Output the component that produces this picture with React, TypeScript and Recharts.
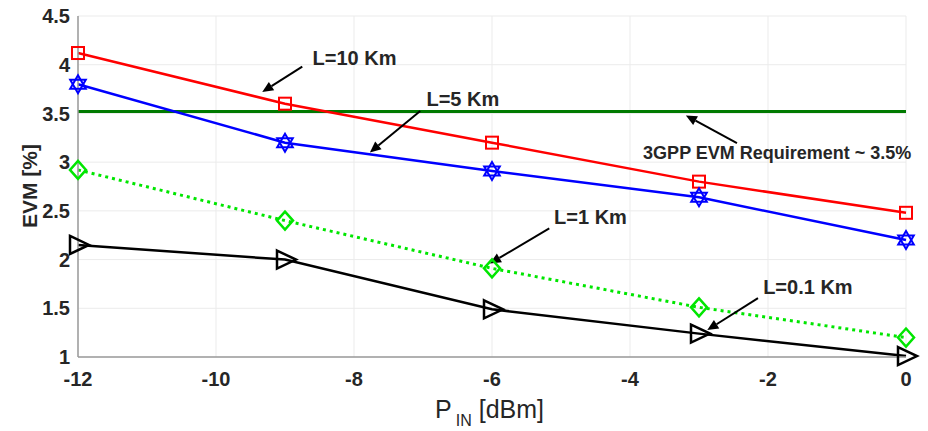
import React from 'react';
import {
  LineChart,
  Line,
  XAxis,
  YAxis,
  CartesianGrid,
  ReferenceLine,
  ReferenceDot,
  Customized,
} from 'recharts';

const pin = [-12, -9, -6, -3, 0];
const evm10km = [4.12, 3.6, 3.2, 2.8, 2.48];
const evm5km = [3.8, 3.2, 2.91, 2.64, 2.2];
const evm1km = [2.92, 2.4, 1.91, 1.51, 1.2];
const evm01km = [2.15, 2.0, 1.49, 1.24, 1.01];
const xTicks = [-12, -10, -8, -6, -4, -2, 0];
const yTicks = [1, 1.5, 2, 2.5, 3, 3.5, 4, 4.5];
const requirement = 3.52;

// arrows: tail/head in data units, text anchored at "at" (left edge, vertical centre)
const annotations = [
  { text: 'L=10 Km', tail: [-8.75, 3.98], head: [-9.33, 3.72], at: [-8.6, 4.07], size: 20 },
  { text: 'L=5 Km', tail: [-7.04, 3.525], head: [-7.77, 3.1], at: [-6.95, 3.65], size: 20 },
  { text: '3GPP EVM Requirement ~ 3.5%', tail: [-2.45, 3.196], head: [-3.19, 3.48], at: [-3.81, 3.093], size: 18 },
  { text: 'L=1 Km', tail: [-5.17, 2.32], head: [-6.03, 1.96], at: [-5.1, 2.436], size: 20 },
  { text: 'L=0.1 Km', tail: [-2.145, 1.605], head: [-2.88, 1.276], at: [-2.07, 1.718], size: 20 },
];

const data = pin.map((p, i) => ({
  pin: p,
  km10: evm10km[i],
  km5: evm5km[i],
  km1: evm1km[i],
  km01: evm01km[i],
}));

const FONT = '"Liberation Sans", Arial, sans-serif';

const SquareDot = ({ cx, cy }: any) => (
  <rect x={cx - 6} y={cy - 6} width={12} height={12} fill="none" stroke="#ff0000" strokeWidth={2} />
);

const HexDot = ({ cx, cy }: any) => {
  const r = 9;
  const up = `${cx},${cy - r} ${cx + r * 0.866},${cy + r / 2} ${cx - r * 0.866},${cy + r / 2}`;
  const down = `${cx},${cy + r} ${cx + r * 0.866},${cy - r / 2} ${cx - r * 0.866},${cy - r / 2}`;
  return (
    <g fill="none" stroke="#0000ff" strokeWidth={2}>
      <polygon points={up} />
      <polygon points={down} />
    </g>
  );
};

const DiamondDot = ({ cx, cy }: any) => (
  <polygon
    points={`${cx},${cy - 9} ${cx + 8},${cy} ${cx},${cy + 9} ${cx - 8},${cy}`}
    fill="none"
    stroke="#00e600"
    strokeWidth={2.5}
  />
);

const TriDot = ({ cx, cy }: any) => (
  <polygon
    points={`${cx - 8},${cy - 9} ${cx + 11},${cy} ${cx - 8},${cy + 9}`}
    fill="none"
    stroke="#000"
    strokeWidth={2.5}
  />
);

const Arrow = (props: any) => {
  const { x1, y1, x2, y2 } = props;
  const ang = Math.atan2(y2 - y1, x2 - x1);
  const len = 11;
  const w = 5;
  const bx = x2 - len * Math.cos(ang);
  const by = y2 - len * Math.sin(ang);
  const p1 = `${bx + w * Math.sin(ang)},${by - w * Math.cos(ang)}`;
  const p2 = `${bx - w * Math.sin(ang)},${by + w * Math.cos(ang)}`;
  return (
    <g>
      <line x1={x1} y1={y1} x2={bx} y2={by} stroke="#000" strokeWidth={2} />
      <polygon points={`${x2},${y2} ${p1} ${p2}`} fill="#000" />
    </g>
  );
};

const Labels = () => (
  <g fontFamily={FONT} fill="#262626">
    <text
      x={29}
      y={186}
      transform="rotate(-90 29 186)"
      textAnchor="middle"
      dominantBaseline="central"
      fontSize={21}
      fontWeight="bold"
    >
      EVM [%]
    </text>
    <text x={435} y={418} fontSize={25}>
      <tspan>P</tspan>
      <tspan dy={8} dx={4} fontSize={16}>IN</tspan>
      <tspan dy={-8} dx={7}>[dBm]</tspan>
    </text>
  </g>
);

export default function App() {
  return (
    <div style={{ width: 928, height: 431, background: '#fff' }}>
      <style>{`body{margin:0}`}</style>
      <LineChart
        width={928}
        height={431}
        data={data}
        margin={{ top: 16, right: 22, bottom: 0, left: 0 }}
        style={{ fontFamily: FONT }}
      >
        <CartesianGrid stroke="#ebebeb" strokeWidth={1} />
        <XAxis
          dataKey="pin"
          type="number"
          domain={[-12, 0]}
          ticks={xTicks}
          height={74}
          tickLine={false}
          tickSize={0}
          tickMargin={15}
          axisLine={{ stroke: '#9a9a9a', strokeWidth: 1.5 }}
          tick={{ fill: '#262626', fontSize: 20, fontWeight: 'bold' }}
        />
        <XAxis xAxisId="top" orientation="top" dataKey="pin" type="number" domain={[-12, 0]} height={0} tick={false} tickLine={false} axisLine={{ stroke: '#bdbdbd' }} />
        <YAxis
          type="number"
          domain={[1, 4.5]}
          ticks={yTicks}
          width={78}
          tickLine={false}
          tickSize={0}
          tickMargin={8}
          axisLine={{ stroke: '#9a9a9a', strokeWidth: 1.5 }}
          tick={{ fill: '#262626', fontSize: 20, fontWeight: 'bold' }}
        />
        <YAxis yAxisId="right" orientation="right" type="number" domain={[1, 4.5]} width={0} tick={false} tickLine={false} axisLine={{ stroke: '#bdbdbd' }} />
        <ReferenceLine y={requirement} stroke="#007a00" strokeWidth={3} />
        <Line dataKey="km10" stroke="#ff0000" strokeWidth={2.5} dot={<SquareDot />} isAnimationActive={false} />
        <Line dataKey="km5" stroke="#0000ff" strokeWidth={2.5} dot={<HexDot />} isAnimationActive={false} />
        <Line
          dataKey="km1"
          stroke="#00e600"
          strokeWidth={3}
          strokeDasharray="3 4"
          dot={<DiamondDot />}
          isAnimationActive={false}
        />
        <Line dataKey="km01" stroke="#000" strokeWidth={2.5} dot={<TriDot />} isAnimationActive={false} />
        {annotations.map((a) => (
          <ReferenceLine
            key={a.text + 'arrow'}
            segment={[
              { x: a.tail[0], y: a.tail[1] },
              { x: a.head[0], y: a.head[1] },
            ]}
            shape={<Arrow />}
            ifOverflow="visible"
          />
        ))}
        {annotations.map((a) => (
          <ReferenceDot
            key={a.text + 'label'}
            x={a.at[0]}
            y={a.at[1]}
            r={0}
            ifOverflow="visible"
            shape={(p: any) => (
              <text
                x={p.cx}
                y={p.cy}
                dominantBaseline="central"
                fontFamily={FONT}
                fontWeight="bold"
                fontSize={a.size}
                fill="#262626"
              >
                {a.text}
              </text>
            )}
          />
        ))}
        <Customized component={Labels} />
      </LineChart>
    </div>
  );
}
